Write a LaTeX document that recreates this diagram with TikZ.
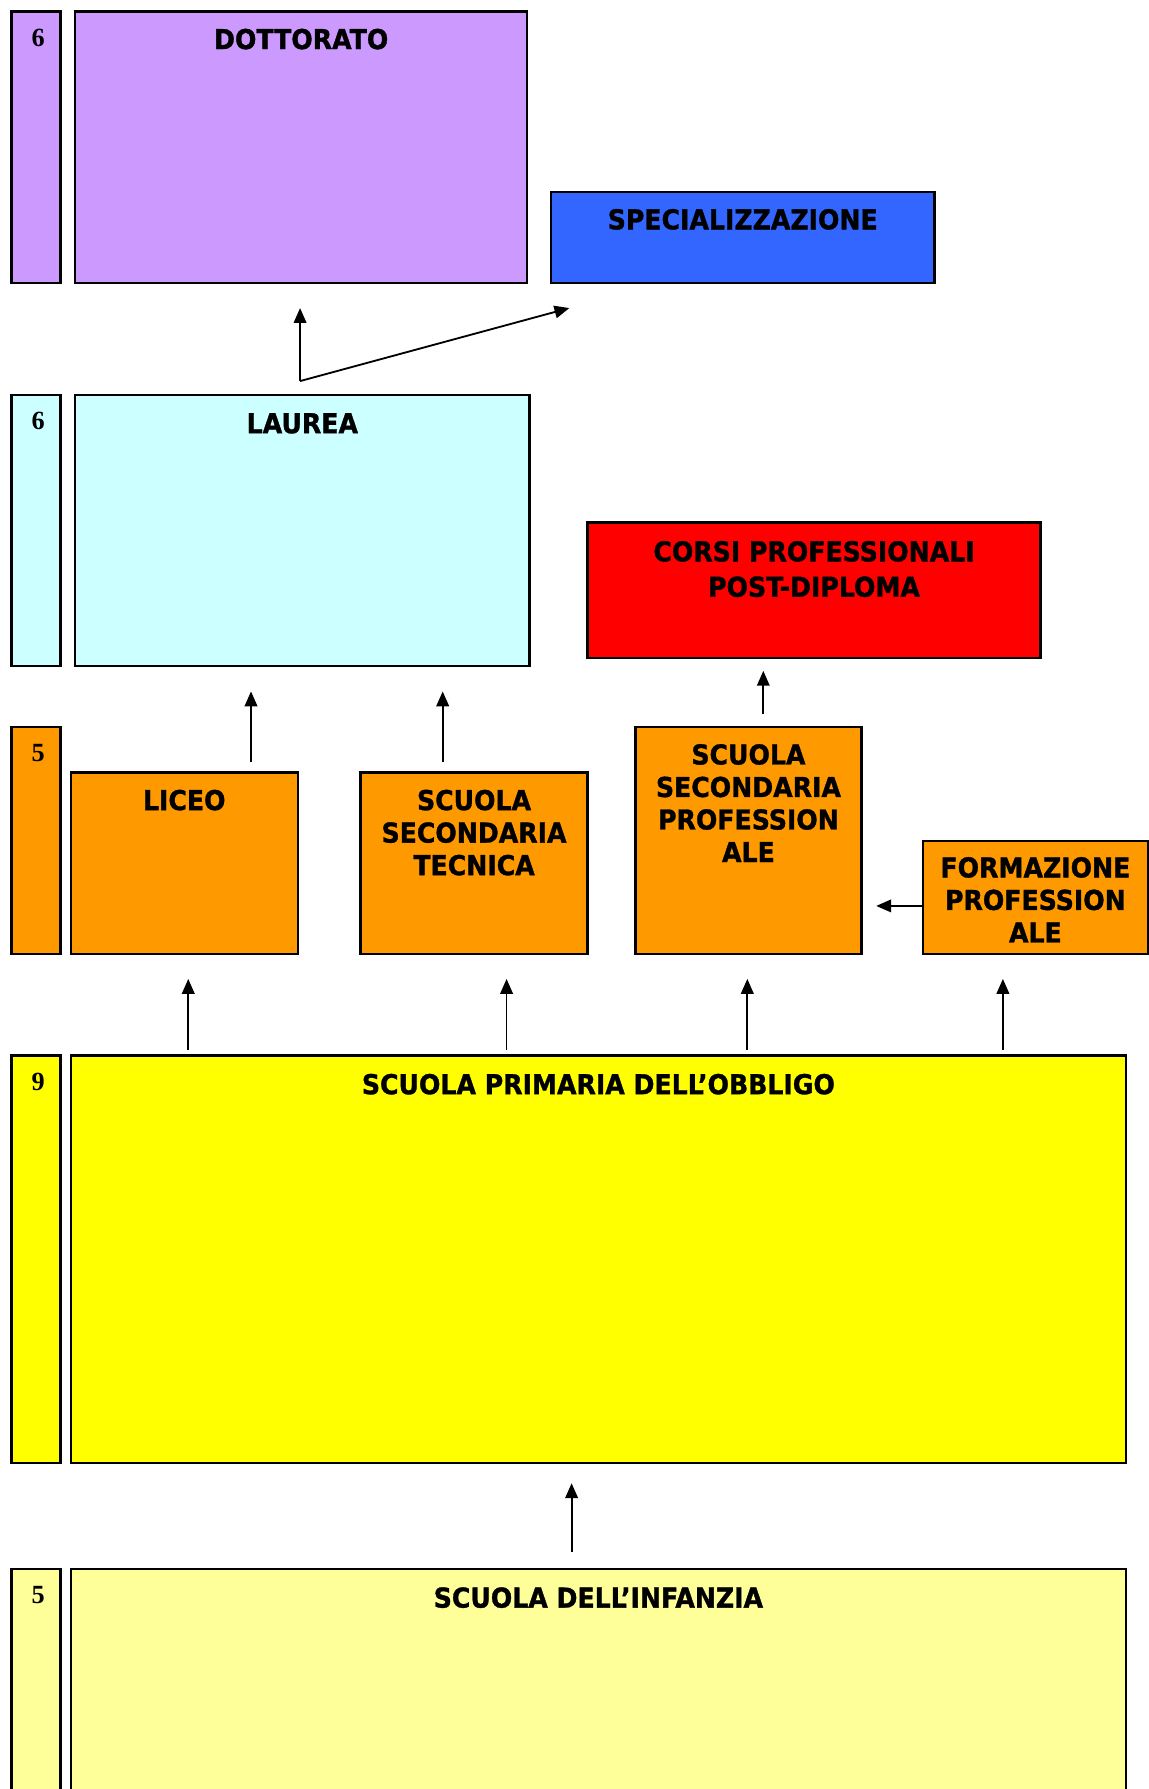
\documentclass[tikz,border=0pt]{standalone}
\usepackage{fontspec}
\setmainfont{DejaVu Sans}[BoldFeatures={FakeStretch=0.92,FakeBold=1.2}]
\newfontfamily\numfont{Liberation Serif}
\usepackage{xcolor}
\usetikzlibrary{arrows.meta, positioning}

\definecolor{viola}{HTML}{CC99FF}
\definecolor{blu}{HTML}{3366FF}
\definecolor{azzurro}{HTML}{CCFFFF}
\definecolor{rosso}{HTML}{FF0000}
\definecolor{arancio}{HTML}{FF9900}
\definecolor{giallo}{HTML}{FFFF00}
\definecolor{giallino}{HTML}{FFFF99}

\begin{document}
\begin{tikzpicture}[x=1pt, y=-1pt,
    livello/.style={draw=black, line width=2pt, inner sep=0pt, anchor=north west},
    anni/.style={livello, minimum width=43pt},
    titolo/.style={font=\fontsize{24}{28.5}\selectfont\bfseries, align=center, inner sep=0pt, anchor=north},
    cifra/.style={font=\numfont\fontsize{23}{23}\selectfont\bfseries, inner sep=0pt, anchor=north, xshift=2pt},
    freccia/.style={line width=1.6pt, -{Triangle[length=13pt,width=11pt]}}]

    \useasboundingbox (0,0) rectangle (1007,1568);
    \clip (0,0) rectangle (1007,1568);

    % Dottorato e specializzazione
    \node[anni, fill=viola, minimum height=238pt] (dottanni) at (9,9) {};
    \node[livello, fill=viola, minimum width=396pt, minimum height=238pt] (dott) at (65,9) {};
    \node[livello, fill=blu, minimum width=336pt, minimum height=80pt] (spec) at (482,167) {};
    \node[cifra] at ([yshift=-16pt]dottanni.north) {6};
    \node[titolo] at ([yshift=-16pt]dott.north) {DOTTORATO};
    \node[titolo] at ([yshift=-16pt]spec.north) {SPECIALIZZAZIONE};

    % Laurea e corsi post-diploma
    \node[anni, fill=azzurro, minimum height=238pt] (laureaanni) at (9,345) {};
    \node[livello, fill=azzurro, minimum width=398pt, minimum height=238pt] (laurea) at (65,345) {};
    \node[livello, fill=rosso, minimum width=397pt, minimum height=119pt] (corsi) at (514,457) {};
    \node[cifra] at ([yshift=-16pt]laureaanni.north) {6};
    \node[titolo] at ([yshift=-17pt]laurea.north) {LAUREA};
    \node[titolo, font=\fontsize{24}{31}\selectfont\bfseries] at ([yshift=-17pt]corsi.north) {CORSI PROFESSIONALI\\POST-DIPLOMA};

    % Secondaria
    \node[anni, fill=arancio, minimum height=199pt] (secanni) at (9,636) {};
    \node[livello, fill=arancio, minimum width=199pt, minimum height=159pt] (liceo) at (61,676) {};
    \node[livello, fill=arancio, minimum width=199pt, minimum height=159pt] (tecnica) at (315,676) {};
    \node[livello, fill=arancio, minimum width=198pt, minimum height=199pt] (profess) at (556,636) {};
    \node[livello, fill=arancio, minimum width=197pt, minimum height=99pt] (formaz) at (808,736) {};
    \node[cifra] at ([yshift=-16pt]secanni.north) {5};
    \node[titolo] at ([yshift=-16pt]liceo.north) {LICEO};
    \node[titolo] at ([yshift=-16pt]tecnica.north) {SCUOLA\\SECONDARIA\\TECNICA};
    \node[titolo] at ([yshift=-16pt]profess.north) {SCUOLA\\SECONDARIA\\PROFESSION\\ALE};
    \node[titolo] at ([yshift=-15pt]formaz.north) {FORMAZIONE\\PROFESSION\\ALE};

    % Primaria
    \node[anni, fill=giallo, minimum height=357pt] (primanni) at (9,924) {};
    \node[livello, fill=giallo, minimum width=925pt, minimum height=357pt] (primaria) at (61,924) {};
    \node[cifra] at ([yshift=-16pt]primanni.north) {9};
    \node[titolo] at ([yshift=-17pt]primaria.north) {SCUOLA PRIMARIA DELL’OBBLIGO};

    % Infanzia
    \node[anni, fill=giallino, minimum height=230pt] (infanni) at (9,1374) {};
    \node[livello, fill=giallino, minimum width=925pt, minimum height=230pt] (infanzia) at (61,1374) {};
    \node[cifra] at ([yshift=-16pt]infanni.north) {5};
    \node[titolo] at ([yshift=-17pt]infanzia.north) {SCUOLA DELL’INFANZIA};

    % Frecce
    \coordinate (bivio) at ([xshift=-2pt,yshift=11pt]laurea.north);
    \draw[freccia, shorten >=21pt] (bivio) -- (bivio |- dott.south);
    \draw[freccia] (bivio) -- ([xshift=17pt,yshift=-21pt]spec.south west);

    \draw[freccia, shorten <=8pt, shorten >=21pt] ([xshift=58.5pt]liceo.north) -- ([xshift=58.5pt]liceo.north |- laurea.south);
    \draw[freccia, shorten <=8pt, shorten >=21pt] ([xshift=-27.5pt]tecnica.north) -- ([xshift=-27.5pt]tecnica.north |- laurea.south);
    \draw[freccia, shorten <=10pt, shorten >=10pt] ([xshift=13pt]profess.north) -- ([xshift=13pt]profess.north |- corsi.south);
    \draw[freccia, shorten >=12pt] ([yshift=-7.5pt]formaz.west) -- ([yshift=-7.5pt]formaz.west -| profess.east);

    \draw[freccia, shorten <=4pt, shorten >=21pt] ([xshift=3.5pt]liceo.south |- primaria.north) -- ([xshift=3.5pt]liceo.south);
    \draw[freccia, shorten <=4pt, shorten >=21pt] ([xshift=28.5pt]tecnica.south |- primaria.north) -- ([xshift=28.5pt]tecnica.south);
    \draw[freccia, shorten <=4pt, shorten >=21pt] ([xshift=-1pt]profess.south |- primaria.north) -- ([xshift=-1pt]profess.south);
    \draw[freccia, shorten <=4pt, shorten >=21pt] ([xshift=-28.5pt]formaz.south |- primaria.north) -- ([xshift=-28.5pt]formaz.south);

    \draw[freccia, shorten <=14pt, shorten >=17pt] ([xshift=-23.5pt]infanzia.north) -- ([xshift=-23.5pt]infanzia.north |- primaria.south);
\end{tikzpicture}
\end{document}
